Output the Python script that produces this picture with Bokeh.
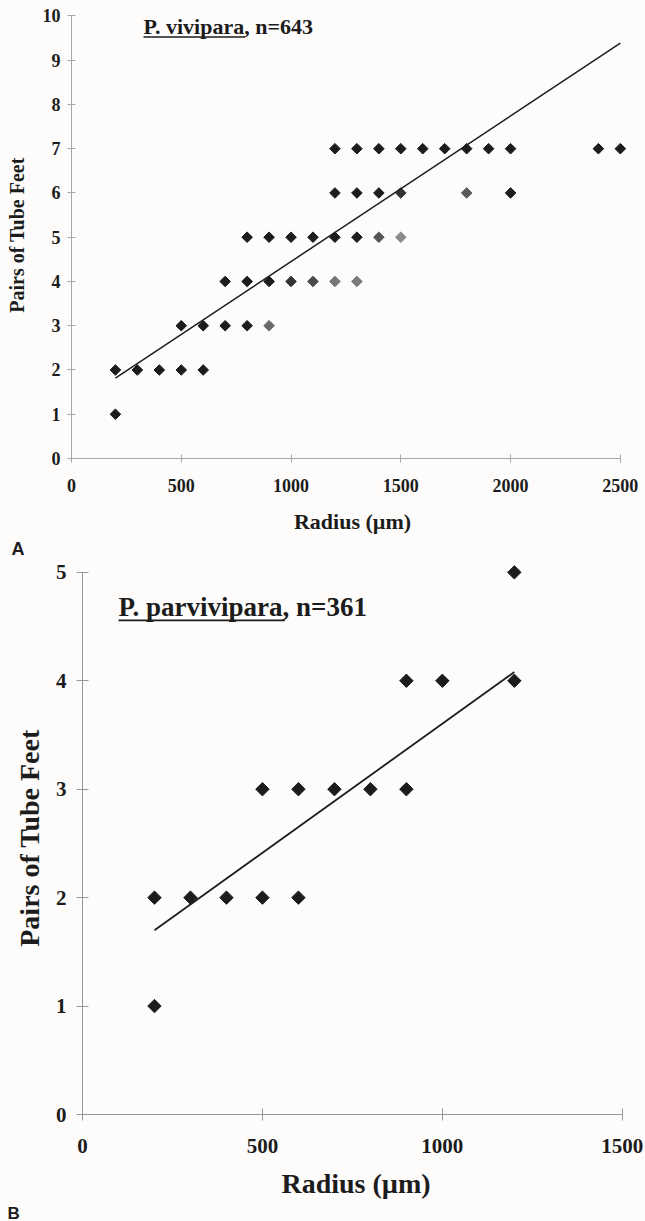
import numpy as np
from bokeh.plotting import figure
from bokeh.layouts import column
from bokeh.models import Label, BoxAnnotation, FixedTicker, Range1d, Title
from bokeh.embed import file_html
from bokeh.resources import INLINE

# ---------------- data: panel A (P. vivipara) ----------------
a_radius = [200,
            200, 300, 400, 500, 600,
            500, 600, 700, 800, 900,
            700, 800, 900, 1000, 1100, 1200, 1300,
            800, 900, 1000, 1100, 1200, 1300, 1400, 1500,
            1200, 1300, 1400, 1500, 1800, 2000,
            1200, 1300, 1400, 1500, 1600, 1700, 1800, 1900, 2000, 2400, 2500]
a_pairs = [1,
           2, 2, 2, 2, 2,
           3, 3, 3, 3, 3,
           4, 4, 4, 4, 4, 4, 4,
           5, 5, 5, 5, 5, 5, 5, 5,
           6, 6, 6, 6, 6, 6,
           7, 7, 7, 7, 7, 7, 7, 7, 7, 7, 7]
a_slope = 0.00329
a_intercept = 1.16
a_fit_x = [200, 2500]
a_xticks = [0, 500, 1000, 1500, 2000, 2500]
a_yticks = [0, 1, 2, 3, 4, 5, 6, 7, 8, 9, 10]
a_title = "P. vivipara, n=643"

# ---------------- data: panel B (P. parvivipara) ----------------
b_radius = [200, 200, 300, 400, 500, 600, 500, 600, 700, 800, 900, 900, 1000, 1200, 1200]
b_pairs = [1, 2, 2, 2, 2, 2, 3, 3, 3, 3, 3, 4, 4, 4, 5]
b_slope = 0.00238
b_intercept = 1.224
b_fit_x = [200, 1200]
b_xticks = [0, 500, 1000, 1500]
b_yticks = [0, 1, 2, 3, 4, 5]
b_title = "P. parvivipara, n=361"

# ---------------- styles ----------------
BG = "#fdfcfb"
INK = "#1c1c1c"
SERIF = "Liberation Serif"
SANS = "Liberation Sans"
# point shading in panel A (some markers print lighter)
a_shade = ([INK] + [INK] * 5 + [INK, INK, INK, INK, "#6a6a6a"]
           + [INK, INK, INK, "#333333", "#4a4a4a", "#777777", "#7a7a7a"]
           + [INK, INK, INK, INK, INK, INK, "#555555", "#8a8a8a"]
           + [INK, INK, INK, "#333333", "#5a5a5a", INK]
           + [INK] * 11)


def style_axes(p, xticks, yticks, xbounds, ybounds, tick_size, xlab_size, ylab_size,
               tick_len, axis_col, xstand, xlstand, ystand, ylstand):
    for ax, ticks, bounds, ls in ((p.xaxis[0], xticks, xbounds, xlab_size),
                                  (p.yaxis[0], yticks, ybounds, ylab_size)):
        ax.ticker = FixedTicker(ticks=ticks)
        ax.bounds = bounds
        ax.axis_line_color = axis_col
        ax.axis_line_width = 1
        ax.major_tick_line_color = axis_col
        ax.major_tick_in = tick_len
        ax.major_tick_out = tick_len
        ax.minor_tick_line_color = None
        ax.major_label_text_font = SERIF
        ax.major_label_text_font_style = "bold"
        ax.major_label_text_font_size = f"{tick_size}px"
        ax.major_label_text_color = INK
        ax.axis_label_text_font = SERIF
        ax.axis_label_text_font_style = "bold"
        ax.axis_label_text_font_size = f"{ls}px"
        ax.axis_label_text_color = INK
    p.xaxis[0].major_label_standoff = xstand
    p.xaxis[0].axis_label_standoff = xlstand
    p.yaxis[0].major_label_standoff = ystand
    p.yaxis[0].axis_label_standoff = ylstand
    p.grid.visible = False


# ---------------- panel A ----------------
pA = figure(frame_width=562, frame_height=447,
            x_range=Range1d(0, 2560), y_range=Range1d(0, 10.1),
            output_backend="svg", toolbar_location=None, frame_align=False,
            min_border_left=71, min_border_right=12, min_border_top=11, min_border_bottom=100,
            background_fill_color=BG, border_fill_color=BG, outline_line_color=None,
            x_axis_label="Radius (\u00b5m)", y_axis_label="Pairs of Tube Feet")
style_axes(pA, a_xticks, a_yticks, (0, 2500), (0, 10), 18, 22, 20, 4, "#a8a8a8",
           16, 14, 7, 12)

pA.scatter(a_radius, a_pairs, marker="square", angle=np.pi / 4, size=7.5,
           fill_color=a_shade, line_color=a_shade)
a_fit_y = [a_intercept + a_slope * x for x in a_fit_x]
pA.line(a_fit_x, a_fit_y, line_color=INK, line_width=1.5)

pA.add_layout(Label(x=328, y=9.77, text=a_title, text_font=SERIF, text_font_style="bold",
                    text_font_size="22px", text_color=INK, text_baseline="middle"))
pA.add_layout(BoxAnnotation(left=328, right=790, bottom=9.505, top=9.54,
                            fill_color=INK, fill_alpha=1, line_color=None))
pA.add_layout(Title(text="A", align="left", offset=-60, standoff=0,
                    text_font=SANS, text_font_style="bold", text_font_size="18px",
                    text_color=INK), "below")

# ---------------- panel B ----------------
pB = figure(frame_width=547, frame_height=553,
            x_range=Range1d(0, 1520), y_range=Range1d(0, 5.1),
            output_backend="svg", toolbar_location=None, frame_align=False,
            min_border_left=82, min_border_right=16, min_border_top=3, min_border_bottom=107,
            background_fill_color=BG, border_fill_color=BG, outline_line_color=None,
            x_axis_label="Radius (\u00b5m)", y_axis_label="Pairs of Tube Feet")
style_axes(pB, b_xticks, b_yticks, (0, 1500), (0, 5), 21, 28, 28, 6, "#999999",
           18, 12, 10, 8)

pB.scatter(b_radius, b_pairs, marker="square", angle=np.pi / 4, size=9.5,
           fill_color=INK, line_color=INK)
b_fit_y = [b_intercept + b_slope * x for x in b_fit_x]
pB.line(b_fit_x, b_fit_y, line_color=INK, line_width=1.8)

pB.add_layout(Label(x=100, y=4.677, text=b_title, text_font=SERIF, text_font_style="bold",
                    text_font_size="27px", text_color=INK, text_baseline="middle"))
pB.add_layout(BoxAnnotation(left=100, right=562, bottom=4.548, top=4.566,
                            fill_color=INK, fill_alpha=1, line_color=None))
pB.add_layout(Title(text="B", align="left", offset=-75, standoff=0,
                    text_font=SANS, text_font_style="bold", text_font_size="17px",
                    text_color=INK), "below")

layout = column(pA, pB)
open("out.html", "w").write(file_html(layout, INLINE))
